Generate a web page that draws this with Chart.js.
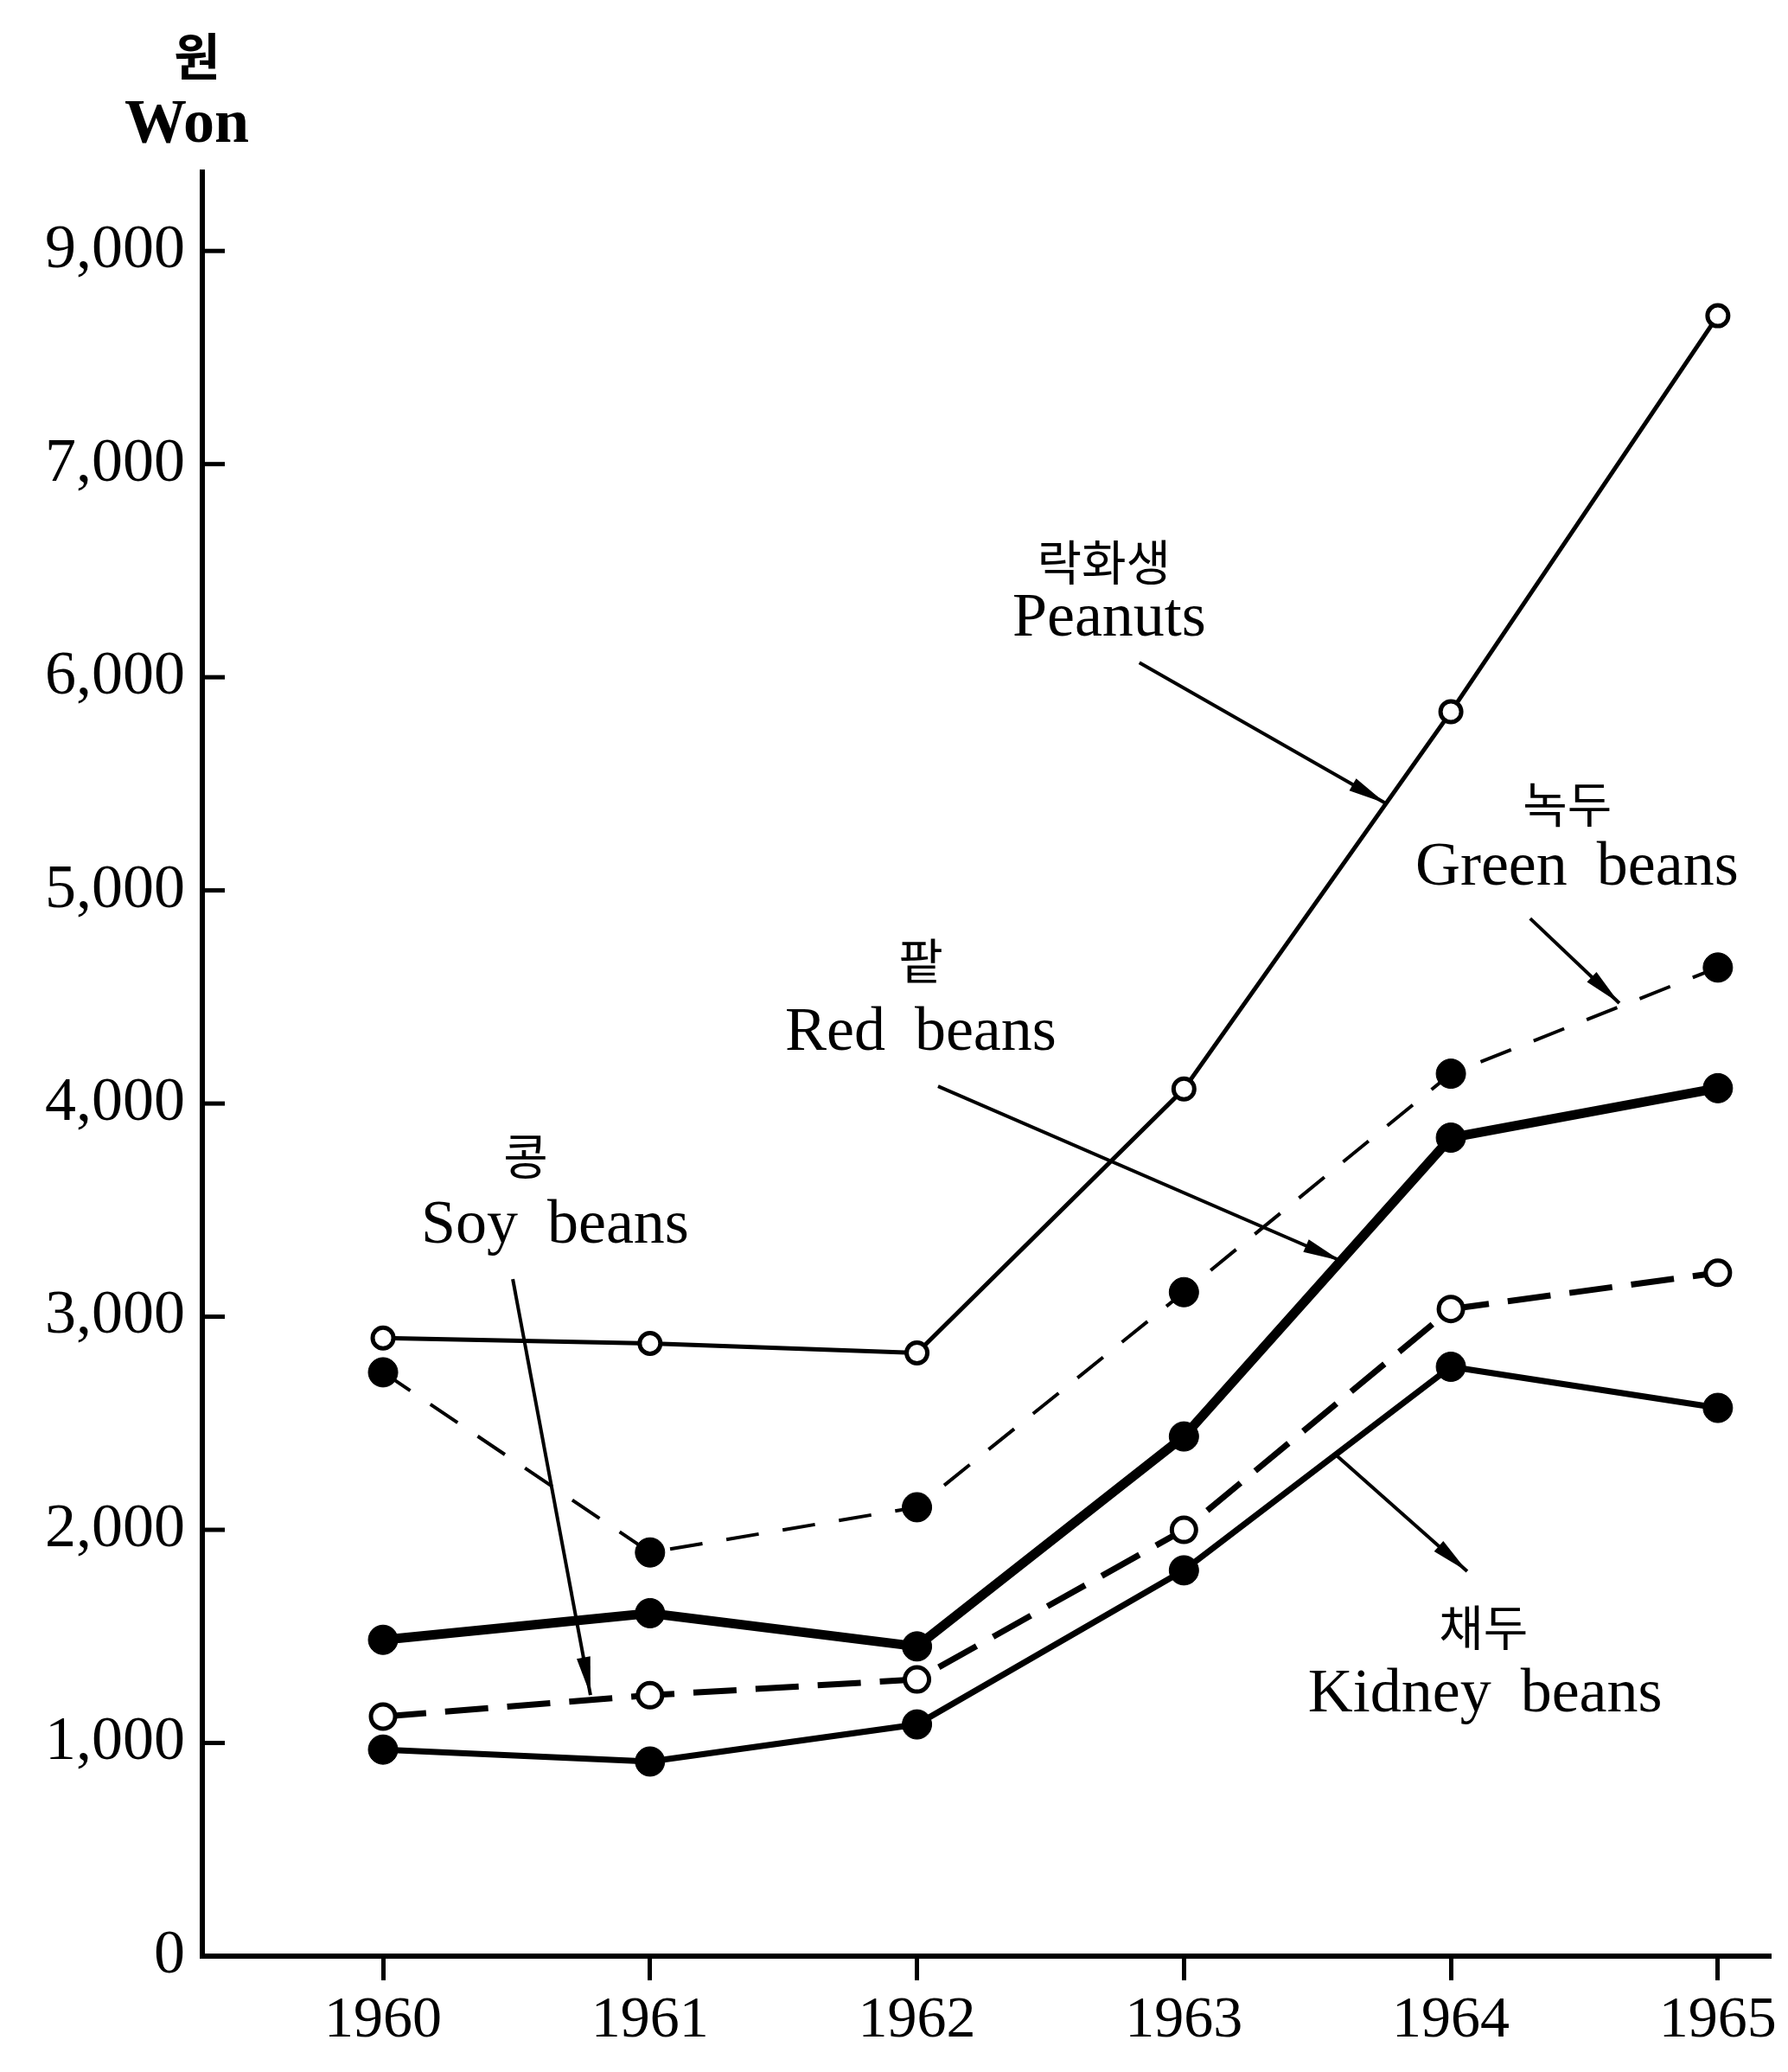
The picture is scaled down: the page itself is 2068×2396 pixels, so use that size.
<!DOCTYPE html>
<html>
<head>
<meta charset="utf-8">
<script src="https://cdn.jsdelivr.net/npm/chart.js@4"></script>
<style>
html, body { margin: 0; padding: 0; background: #fff; }
canvas { display: block; }
</style>
</head>
<body>
<canvas id="chart" width="2068" height="2396"></canvas>
<script>
const years = [1960, 1961, 1962, 1963, 1964, 1965];
const peanuts = [2900, 2875, 2830, 4068, 5838, 7696];
const greenBeans = [2739, 1894, 2106, 3115, 4140, 4638];
const redBeans = [1484, 1609, 1453, 2438, 3840, 4072];
const soyBeans = [1124, 1224, 1298, 2000, 3036, 3206];
const kidneyBeans = [969, 913, 1087, 1810, 2765, 2572];

const yTickValues = [0, 1000, 2000, 3000, 4000, 5000, 6000, 7000, 8000];
// top label reads "9,000" in the printed original
const yTickLabels = ["0", "1,000", "2,000", "3,000", "4,000", "5,000", "6,000", "7,000", "9,000"];

// label text + placement in data units (year, won)
const notes = [
  { ko: "락화생", en: "Peanuts", koAt: [1962.70, 6540], enAt: [1962.72, 6272], from: [1962.833, 6069], to: [1963.756, 5408] },
  { ko: "녹두", en: "Green beans", koAt: [1964.436, 5404], enAt: [1964.472, 5103], from: [1964.297, 4868], to: [1964.631, 4471] },
  { ko: "팥", en: "Red beans", koAt: [1962.014, 4669], enAt: [1962.014, 4329], from: [1962.079, 4081], to: [1963.588, 3262] },
  { ko: "콩", en: "Soy beans", koAt: [1960.534, 3753], enAt: [1960.644, 3424], from: [1960.486, 3176], to: [1960.777, 1225] },
  { ko: "채두", en: "Kidney beans", koAt: [1964.122, 1542], enAt: [1964.128, 1225], from: [1963.575, 2345], to: [1964.061, 1805] }
];

const pts = arr => years.map((x, i) => ({ x: x, y: arr[i] }));

function series(values, opts) {
  return Object.assign({
    data: pts(values),
    borderColor: "#000",
    pointBorderColor: "#000",
    pointStyle: "circle",
    tension: 0,
    fill: false
  }, opts);
}

const inwardTicks = {
  id: "inwardTicks",
  afterDraw(chart) {
    const { ctx, chartArea } = chart;
    const y = chart.scales.y;
    ctx.save();
    ctx.strokeStyle = "#000";
    ctx.lineWidth = 5;
    y.ticks.forEach(t => {
      if (t.value === 0) return;
      const py = y.getPixelForValue(t.value);
      ctx.beginPath();
      ctx.moveTo(chartArea.left, py);
      ctx.lineTo(chartArea.left + 26, py);
      ctx.stroke();
    });
    ctx.restore();
  }
};

const unitTitle = {
  id: "unitTitle",
  afterDraw(chart) {
    const { ctx, chartArea } = chart;
    ctx.save();
    ctx.fillStyle = "#000";
    ctx.textAlign = "center";
    ctx.textBaseline = "middle";
    ctx.font = 'bold 58px "Noto Sans CJK KR"';
    ctx.fillText("원", chartArea.left - 6, chartArea.top - 134);
    ctx.font = 'bold 72px "Liberation Serif"';
    ctx.fillText("Won", chartArea.left - 18, chartArea.top - 54);
    ctx.restore();
  }
};

const callouts = {
  id: "callouts",
  afterDatasetsDraw(chart) {
    const { ctx } = chart;
    const sx = chart.scales.x, sy = chart.scales.y;
    const P = p => [sx.getPixelForValue(p[0]), sy.getPixelForValue(p[1])];
    ctx.save();
    ctx.fillStyle = "#000";
    ctx.strokeStyle = "#000";
    ctx.textAlign = "center";
    ctx.textBaseline = "middle";
    notes.forEach(n => {
      let [x, y] = P(n.koAt);
      ctx.font = '56px "Noto Sans CJK KR"';
      ctx.fillText(n.ko, x, y);
      [x, y] = P(n.enAt);
      ctx.font = '72px "Liberation Serif"';
      ctx.wordSpacing = "16px";
      ctx.fillText(n.en, x, y);
      ctx.wordSpacing = "0px";

      const [x0, y0] = P(n.from);
      const [x1, y1] = P(n.to);
      ctx.lineWidth = 4;
      ctx.beginPath();
      ctx.moveTo(x0, y0);
      ctx.lineTo(x1, y1);
      ctx.stroke();
      const a = Math.atan2(y1 - y0, x1 - x0);
      const len = 44, w = 8;
      ctx.beginPath();
      ctx.moveTo(x1, y1);
      ctx.lineTo(x1 - len * Math.cos(a) + w * Math.sin(a), y1 - len * Math.sin(a) - w * Math.cos(a));
      ctx.lineTo(x1 - len * Math.cos(a) - w * Math.sin(a), y1 - len * Math.sin(a) + w * Math.cos(a));
      ctx.closePath();
      ctx.fill();
    });
    ctx.restore();
  }
};

new Chart(document.getElementById("chart"), {
  type: "line",
  data: {
    datasets: [
      series(peanuts, { label: "Peanuts", borderWidth: 5, pointRadius: 12, pointBorderWidth: 5, pointBackgroundColor: "#fff" }),
      series(greenBeans, { label: "Green beans", borderWidth: 4, borderDash: [38, 28], pointRadius: 17, pointBorderWidth: 1, pointBackgroundColor: "#000" }),
      series(redBeans, { label: "Red beans", borderWidth: 11, pointRadius: 17, pointBorderWidth: 1, pointBackgroundColor: "#000" }),
      series(soyBeans, { label: "Soy beans", borderWidth: 7, borderDash: [50, 22], pointRadius: 14, pointBorderWidth: 5, pointBackgroundColor: "#fff" }),
      series(kidneyBeans, { label: "Kidney beans", borderWidth: 7, pointRadius: 17, pointBorderWidth: 1, pointBackgroundColor: "#000" })
    ]
  },
  options: {
    responsive: false,
    animation: false,
    devicePixelRatio: 1,
    layout: { padding: { top: 199, right: 20, left: 0, bottom: 0 } },
    plugins: {
      legend: { display: false },
      tooltip: { enabled: false }
    },
    scales: {
      x: {
        type: "linear",
        min: 1959.323,
        max: 1965.198,
        afterBuildTicks: s => { s.ticks = years.map(v => ({ value: v })); },
        afterFit: s => { s.height = 134; },
        grid: { display: true, drawOnChartArea: false, drawTicks: true, tickLength: 28, tickWidth: 5, color: "#000" },
        border: { display: true, width: 6, color: "#000" },
        ticks: {
          color: "#000",
          font: { family: '"Liberation Serif"', size: 68 },
          padding: 6,
          maxRotation: 0,
          autoSkip: false,
          callback: v => String(v)
        }
      },
      y: {
        min: 0,
        max: 8370,
        afterBuildTicks: s => { s.ticks = yTickValues.map(v => ({ value: v })); },
        afterFit: s => { s.width = 234; },
        grid: { display: false },
        border: { display: true, width: 6, color: "#000" },
        ticks: {
          color: "#000",
          font: { family: '"Liberation Serif"', size: 72 },
          padding: 12,
          autoSkip: false,
          callback: (v, i) => yTickLabels[i]
        }
      }
    }
  },
  plugins: [inwardTicks, unitTitle, callouts]
});
</script>
</body>
</html>
